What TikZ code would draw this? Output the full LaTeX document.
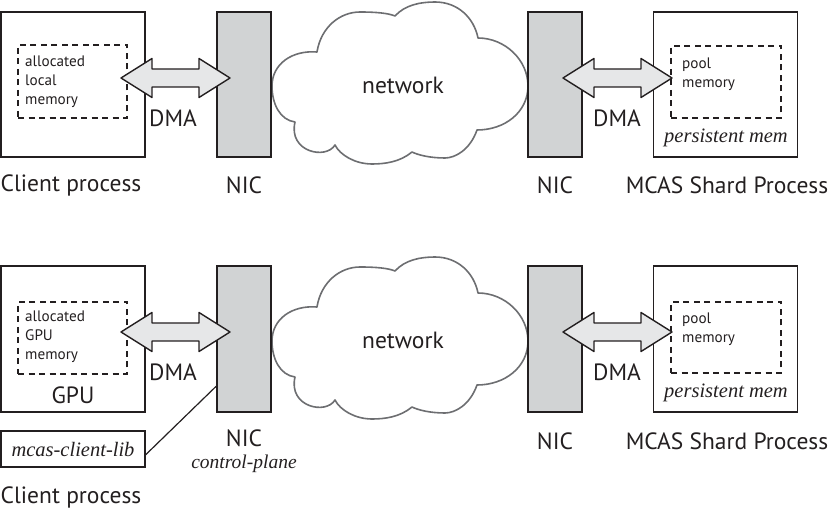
\documentclass[tikz,border=0pt]{standalone}
\usepackage{fontspec}
\setmainfont{PT Sans}
\newfontfamily\itserif{Liberation Serif}
\usetikzlibrary{calc}
\definecolor{nicgray}{HTML}{D1D3D4}
\definecolor{arrgray}{HTML}{E6E7E8}
\definecolor{cloudgray}{HTML}{6D6E71}
\definecolor{ink}{HTML}{231F20}
\tikzset{
  box/.style={draw=ink, line width=1.6pt, inner sep=0pt, minimum width=144pt, minimum height=145pt},
  nicbox/.style={draw=ink, fill=nicgray, line width=1.6pt, inner sep=0pt, minimum width=54pt, minimum height=145pt},
  membox/.style={draw=ink, line width=1.5pt, dash pattern=on 6pt off 4.5pt, inner sep=0pt},
  small/.style={text=ink, font=\fontsize{15.2}{19}\selectfont, align=left, inner sep=0pt, anchor=west},
  big/.style={text=ink, font=\fontsize{23.5}{26}\selectfont, inner sep=0pt},
  ital/.style={text=ink, font=\itserif\itshape\fontsize{20.5}{22}\selectfont, inner sep=0pt},
  dbl/.style={draw=ink, fill=arrgray, line width=1.4pt, line join=round},
  cloud/.style={draw=cloudgray, fill=white, line width=1.6pt, line join=round},
  link/.style={draw=ink, line width=1.2pt}
}
\newcommand\dblarrow[2]{%
  \draw[dbl] (#1) -- ($(#1)+(31,-19.5)$) -- ($(#1)+(31,-9)$) -- ($(#2)+(-31,-9)$)
   -- ($(#2)+(-31,-19.5)$) -- (#2) -- ($(#2)+(-31,19.5)$) -- ($(#2)+(-31,9)$)
   -- ($(#1)+(31,9)$) -- ($(#1)+(31,19.5)$) -- cycle;}
\newcommand\cloudshape[1]{%
  \draw[cloud, yshift=#1] (295,122)
    .. controls (280,120) and (272,104) .. (272,86)
    .. controls (272,64) and (292,50) .. (317,52)
    .. controls (321,27) and (340,12) .. (360,12)
    .. controls (375,12) and (388,13) .. (395,16)
    .. controls (405,5) and (420,2) .. (435,2)
    .. controls (458,2) and (474,18) .. (478,38)
    .. controls (505,38) and (528,60) .. (528,86)
    .. controls (528,112) and (505,130) .. (477,130)
    .. controls (470,150) and (455,158) .. (445,158)
    .. controls (430,158) and (418,155) .. (412,152)
    .. controls (400,162) and (385,164) .. (372,164)
    .. controls (355,164) and (340,155) .. (335,145)
    .. controls (326,160) and (288,152) .. (295,122) -- cycle;}
\begin{document}
\begin{tikzpicture}[x=1pt, y=-1pt]
\useasboundingbox (0,0) rectangle (830,518);
% ---------- top row ----------
\cloudshape{0pt}
\node[big] (net1) at (403,85) {network};
\node[box] (cl) at (73,84.5) {};
\node[membox, minimum width=109pt, minimum height=73pt] (m1) at (72.5,81.5) {};
\node[small] (m1t) at (25,82) {allocated\\local\\memory};
\node[nicbox] (n1) at (244,84.5) {};
\node[nicbox] (n2) at (555,84.5) {};
\node[box] (s1) at (725.5,84.5) {};
\node[membox, minimum width=110pt, minimum height=72pt] (p1) at (726,82) {};
\node[small] (p1t) at (682,74) {pool\\memory};
\node[ital] (pm1) at (726,138) {persistent mem};
\coordinate (a1l) at (121,78);
\coordinate (a1r) at (230,78);
\dblarrow{a1l}{a1r}
\coordinate (a2l) at (563,78);
\coordinate (a2r) at (672,78);
\dblarrow{a2l}{a2r}
\node[big] (d1) at (173,118) {DMA};
\node[big] (d2) at (617,118) {DMA};
\node[big] (l1) at (71,185) {Client process};
\node[big] (l2) at (244,185) {NIC};
\node[big] (l3) at (555,185) {NIC};
\node[big] (l4) at (727,185) {MCAS Shard Process};
% ---------- bottom row ----------
\cloudshape{-255pt}
\node[big] (net2) at (403,340) {network};
\node[box, minimum height=146pt] (gpu) at (73,339) {};
\node[membox, minimum width=109pt, minimum height=72pt] (m2) at (72.5,338) {};
\node[small] (m2t) at (25,337) {allocated\\GPU\\memory};
\node[big] (gl) at (73,395) {GPU};
\node[nicbox, minimum height=146pt] (nb1) at (244,339) {};
\node[nicbox, minimum height=146pt] (nb2) at (555,339) {};
\node[box, minimum height=146pt] (s2) at (725.5,339) {};
\node[membox, minimum width=110pt, minimum height=71pt] (p2) at (726,337.5) {};
\node[small] (p2t) at (682,329) {pool\\memory};
\node[ital] (pm2) at (726,393) {persistent mem};
\coordinate (b1l) at (121,332);
\coordinate (b1r) at (230,332);
\dblarrow{b1l}{b1r}
\coordinate (b2l) at (563,332);
\coordinate (b2r) at (672,332);
\dblarrow{b2l}{b2r}
\node[big] (d3) at (173,372) {DMA};
\node[big] (d4) at (617,372) {DMA};
\node[box, minimum height=36pt] (lib) at (73,449) {};
\node[ital] (libt) at (73,449) {mcas-client-lib};
\node[big] (l5) at (244,438.5) {NIC};
\node[ital, font=\itserif\itshape\fontsize{19.5}{21}\selectfont] (cp) at (244,464) {control-plane};
\node[big] (l6) at (555,441) {NIC};
\node[big] (l7) at (727,441) {MCAS Shard Process};
\node[big] (l8) at (71,497) {Client process};
\draw[link] ($(lib.south east)!0.35!(lib.north east)$) -- ($(nb1.south west)!0.18!(nb1.north west)$);
\end{tikzpicture}
\end{document}
